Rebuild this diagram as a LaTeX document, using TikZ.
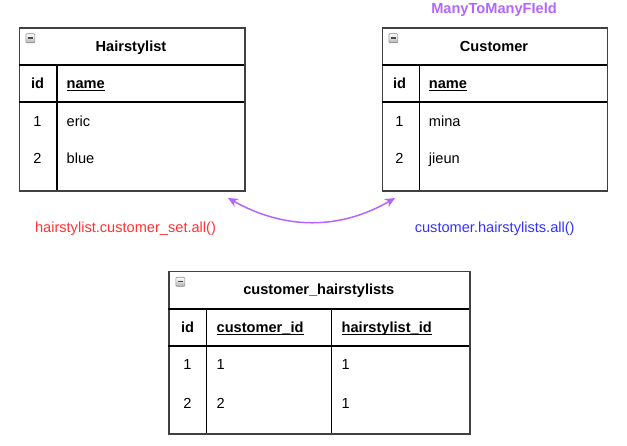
\documentclass[tikz,border=0pt]{standalone}
\usepackage{fontspec}
\setmainfont{Liberation Sans}
\usetikzlibrary{arrows.meta}
\definecolor{mpurple}{RGB}{178,102,255}
\definecolor{mred}{RGB}{255,51,51}
\definecolor{mblue}{RGB}{51,51,255}
\definecolor{mborder}{RGB}{64,64,64}
\newcommand{\myul}[1]{\underline{\raisebox{0pt}[\height][0pt]{#1}}}
\tikzset{
  tbl/.style={draw=mborder, line width=1.6pt, anchor=north west, inner sep=0pt, fill=white},
  inner/.style={draw=black, line width=1.1pt},
  txt/.style={inner sep=0pt, anchor=base, font=\fontsize{14.6pt}{17pt}\selectfont},
  btxt/.style={txt, font=\fontsize{14.6pt}{17pt}\selectfont\bfseries},
  lefttxt/.style={txt, anchor=base west},
  blefttxt/.style={btxt, anchor=base west},
  colicon/.style={draw=black!45, line width=0.6pt, rounded corners=1pt, top color=white, bottom color=black!30, minimum width=9pt, minimum height=9pt, inner sep=0pt, anchor=north west},
  rel/.style={draw=mpurple, line width=1.5pt, {Stealth[length=10pt,width=9pt]}-{Stealth[length=10pt,width=9pt]}}
}
\begin{document}
\begin{tikzpicture}[x=1pt,y=-1pt]
\useasboundingbox (0,0) rectangle (627,446);

% ---------- Hairstylist ----------
\node[tbl, minimum width=225.5pt, minimum height=163pt] (hs) at (18.5,27) {};
\draw[inner] (18.5,65) -- (244,65);
\draw[inner] (18.5,102) -- (244,102);
\draw[inner] (57,65) -- (57,190);
\node[colicon] (hsicon) at (25.5,33.5) {};
\draw[black!70, line width=1.2pt] (27.5,38) -- (32.5,38);
\node[btxt] (hstitle) at (131,51.5) {Hairstylist};
\node[btxt] (hsid) at (37.5,88.5) {id};
\node[blefttxt] (hsname) at (66.5,88.5) {\myul{name}};
\node[txt] (hsr1id) at (37.5,127) {1};
\node[lefttxt] (hsr1n) at (66.5,127) {eric};
\node[txt] (hsr2id) at (37.5,163.5) {2};
\node[lefttxt] (hsr2n) at (66.5,163.5) {blue};

% ---------- Customer ----------
\node[tbl, minimum width=225pt, minimum height=163pt] (cu) at (381.7,27) {};
\draw[inner] (381.7,65) -- (606.7,65);
\draw[inner] (381.7,102) -- (606.7,102);
\draw[inner] (419.3,65) -- (419.3,190);
\node[colicon] (cuicon) at (388.5,33.5) {};
\draw[black!70, line width=1.2pt] (390.5,38) -- (395.5,38);
\node[btxt] (cutitle) at (494,51.5) {Customer};
\node[btxt] (cuid) at (399.5,88.5) {id};
\node[blefttxt] (cuname) at (428.7,88.5) {\myul{name}};
\node[txt] (cur1id) at (399.5,127) {1};
\node[lefttxt] (cur1n) at (428.7,127) {mina};
\node[txt] (cur2id) at (399.5,163.5) {2};
\node[lefttxt] (cur2n) at (428.7,163.5) {jieun};

\node[btxt, text=mpurple] (m2m) at (494,14) {ManyToManyFIeld};

% ---------- relation ----------
\coordinate (ra) at (228,198);
\coordinate (rb) at (395,198);
\draw[rel] (ra) .. controls (285,230) and (340,230) .. (rb);
\node[txt, text=mred] (lbl1) at (125.5,233) {hairstylist.customer\_set.all()};
\node[txt, text=mblue] (lbl2) at (494.7,233) {customer.hairstylists.all()};

% ---------- customer_hairstylists ----------
\node[tbl, minimum width=301pt, minimum height=162.6pt] (ch) at (168.3,270.7) {};
\draw[inner] (168.3,309) -- (469.3,309);
\draw[inner] (168.3,346) -- (469.3,346);
\draw[inner] (206.7,309) -- (206.7,433.3);
\draw[inner] (331.7,309) -- (331.7,433.3);
\node[colicon] (chicon) at (175.5,277) {};
\draw[black!70, line width=1.2pt] (177.5,281.5) -- (182.5,281.5);
\node[btxt] (chtitle) at (318.8,295) {customer\_hairstylists};
\node[btxt] (chid) at (187.5,332.5) {id};
\node[blefttxt] (chcid) at (216.5,332.5) {\myul{customer\_id}};
\node[blefttxt] (chhid) at (341.5,332.5) {\myul{hairstylist\_id}};
\node[txt] (chr1id) at (187.5,370) {1};
\node[lefttxt] (chr1c) at (216.5,370) {1};
\node[lefttxt] (chr1h) at (341.5,370) {1};
\node[txt] (chr2id) at (187.5,408.5) {2};
\node[lefttxt] (chr2c) at (216.5,408.5) {2};
\node[lefttxt] (chr2h) at (341.5,408.5) {1};
\end{tikzpicture}
\end{document}
